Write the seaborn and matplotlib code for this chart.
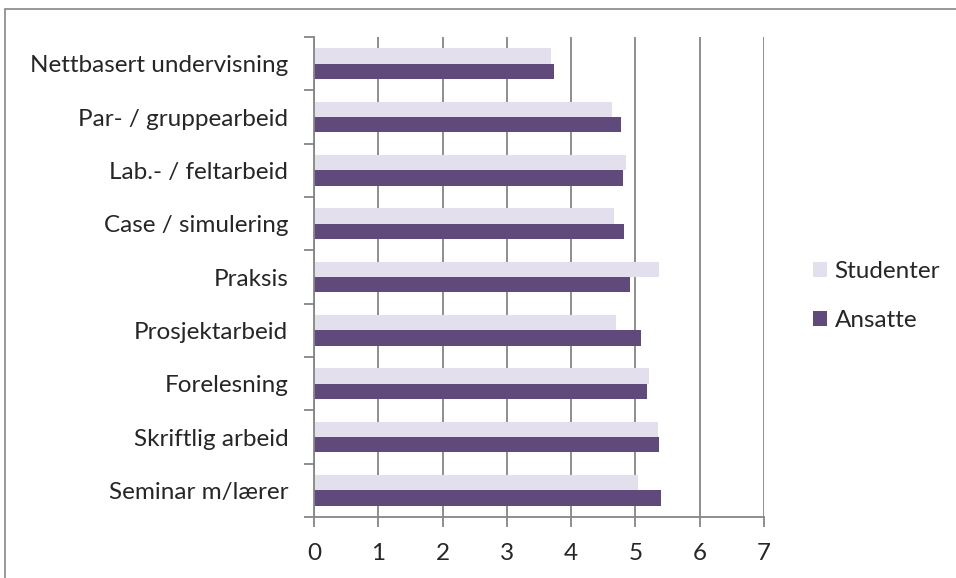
import matplotlib
matplotlib.use("Agg")
import matplotlib.pyplot as plt
import seaborn as sns
import pandas as pd
import numpy as np
from matplotlib.patches import Rectangle, Patch

categories = ["Nettbasert undervisning", "Par- / gruppearbeid", "Lab.- / feltarbeid",
              "Case / simulering", "Praksis", "Prosjektarbeid", "Forelesning",
              "Skriftlig arbeid", "Seminar m/lærer"]
studenter = [3.69, 4.63, 4.85, 4.67, 5.36, 4.69, 5.21, 5.35, 5.04]
ansatte = [3.74, 4.78, 4.80, 4.83, 4.91, 5.09, 5.18, 5.37, 5.40]
series = ["Studenter", "Ansatte"]
colors = {"Studenter": "#E4DFEC", "Ansatte": "#604A7B"}
xticks = [0, 1, 2, 3, 4, 5, 6, 7]

df = pd.DataFrame({
    "Kategori": categories * 2,
    "Verdi": studenter + ansatte,
    "Gruppe": ["Studenter"] * len(categories) + ["Ansatte"] * len(categories),
})

sns.set_style("white")
plt.rcParams["font.family"] = ["Lato", "DejaVu Sans"]
FS = 17.5

fig = plt.figure(figsize=(9.56, 5.78), dpi=100)
ax = fig.add_axes([314 / 956, 1 - 517 / 578, 450 / 956, 480 / 578])

sns.barplot(data=df, y="Kategori", x="Verdi", hue="Gruppe", order=categories,
            hue_order=series, palette=colors, orient="h", width=0.57,
            ax=ax, legend=False, saturation=1, linewidth=0)

ax.set_xlim(0, 7)
ax.set_ylim(len(categories) - 0.5, -0.5)
ax.set_xticks(xticks)
ax.set_xticklabels([str(t) for t in xticks], fontsize=FS)
ax.set_yticks(range(len(categories)))
ax.set_yticklabels(categories, fontsize=FS)
ax.set_yticks(np.arange(-0.5, len(categories), 1.0), minor=True)
ax.tick_params(axis="y", which="major", length=0, pad=18.5)
ax.tick_params(axis="y", which="minor", length=7, width=1.3, color="#868686", direction="out", left=True)
ax.tick_params(axis="x", which="major", length=7, width=1.3, color="#868686", direction="out", pad=11.5, bottom=True)
ax.set_xlabel("")
ax.set_ylabel("")
ax.xaxis.grid(True, color="#868686", linewidth=1.3)
ax.yaxis.grid(False)
ax.set_axisbelow(True)
for s in ["top", "right"]:
    ax.spines[s].set_visible(False)
for s in ["left", "bottom"]:
    ax.spines[s].set_color("#868686")
    ax.spines[s].set_linewidth(1.3)

handles = [Patch(facecolor=colors[s], edgecolor="none", label=s) for s in series]
fig.legend(handles=handles, loc="center left", bbox_to_anchor=(803 / 956, 1 - 296 / 578),
           frameon=False, fontsize=FS, handlelength=0.6, handleheight=0.55,
           handletextpad=0.3, labelspacing=1.15, borderaxespad=0)

fig.patches.append(Rectangle((5 / 956, -0.1), 1.1, 1 - 9 / 578 + 0.1, transform=fig.transFigure,
                             fill=False, edgecolor="#868686", linewidth=1.2))

fig.savefig("out.png", dpi=100)
